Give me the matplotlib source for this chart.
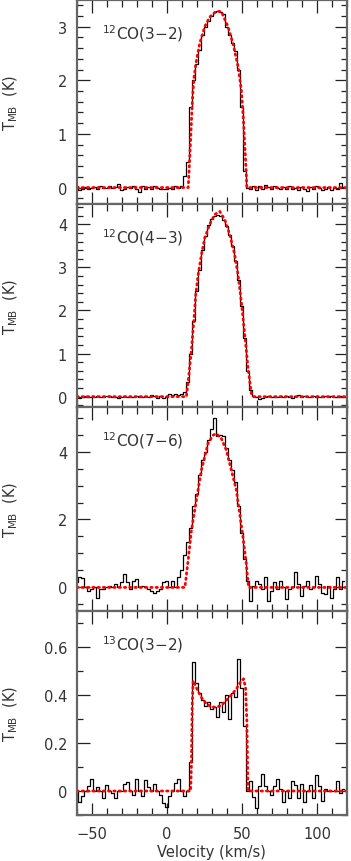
import numpy as np
import matplotlib
matplotlib.use("Agg")
import matplotlib.pyplot as plt
from matplotlib.ticker import MultipleLocator, FixedLocator, FuncFormatter

# channel centres (km/s), 2 km/s channels
velocity = np.arange(-60, 120, 2)

co32 = [0.02, -0.04, -0.02, 0.01, -0.02, 0.0, 0.01, -0.02, 0.02, -0.01,
        0.0, 0.02, -0.01, 0.01, 0.06, -0.04, -0.02, 0.01, -0.01, 0.02,
        -0.03, -0.09, 0.02, -0.02, 0.01, -0.03, 0.02, -0.01, -0.03, -0.02,
        -0.02, -0.01, -0.02, 0.02, 0.0, 0.03, 0.22, 0.48, 1.5, 2.0,
        2.3, 2.57, 2.85, 3.0, 3.1, 3.2, 3.27, 3.3, 3.27, 3.24,
        3.0, 2.85, 2.7, 2.55, 2.2, 1.5, 0.3, 0.0, -0.03, 0.02,
        -0.04, 0.03, -0.02, 0.04, 0.01, -0.02, 0.03, 0.0, -0.03, 0.01,
        -0.02, 0.02, -0.03, 0.0, -0.04, 0.01, -0.02, -0.06, 0.01, -0.03,
        0.02, -0.01, -0.04, -0.02, 0.01, -0.05, 0.0, -0.02, 0.08, 0.01]

co43 = [0.01, -0.02, 0.0, 0.01, 0.0, -0.01, 0.0, 0.01, 0.0, -0.01,
        0.02, 0.01, 0.0, -0.01, -0.02, 0.0, 0.01, 0.0, -0.01, 0.0,
        0.01, 0.0, 0.0, 0.02, 0.0, 0.04, 0.02, -0.02, 0.01, -0.02,
        0.0, 0.05, 0.03, 0.06, 0.04, 0.07, 0.1, 0.35, 1.0, 1.75,
        2.45, 2.95, 3.4, 3.72, 3.98, 4.12, 4.2, 4.22, 4.2, 4.1,
        3.95, 3.75, 3.5, 3.15, 2.7, 2.1, 1.35, 0.6, 0.15, 0.02,
        0.0, -0.06, -0.03, 0.0, 0.01, 0.0, -0.01, 0.0, 0.01, 0.0,
        0.02, 0.0, -0.02, 0.01, 0.03, 0.0, 0.01, -0.01, 0.0, 0.01,
        0.0, -0.01, 0.0, 0.01, 0.0, 0.02, 0.0, -0.01, 0.01, 0.0]

co76 = [0.15, 0.3, 0.28, 0.0, -0.1, -0.05, 0.0, -0.3, -0.05, -0.05,
        0.0, 0.05, 0.0, 0.1, 0.0, 0.15, 0.4, 0.15, -0.05, 0.2,
        0.25, 0.0, 0.05, 0.0, -0.05, -0.1, -0.15, -0.1, -0.05, 0.15,
        0.2, 0.0, 0.2, 0.0, 0.3, 0.5, 0.95, 1.35, 1.75, 2.4,
        2.75, 3.3, 3.75, 4.0, 4.35, 4.65, 5.0, 4.45, 4.5, 4.45,
        4.1, 3.75, 3.45, 3.1, 2.4, 1.6, 0.85, 0.2, -0.4, 0.05,
        0.2, 0.1, -0.05, 0.3, -0.4, -0.1, 0.15, -0.05, 0.2, 0.0,
        -0.35, -0.05, 0.0, 0.45, 0.1, -0.25, 0.05, 0.2, -0.05, 0.0,
        0.35, 0.1, -0.15, -0.2, 0.05, -0.3, -0.05, 0.3, -0.05, 0.2]

c13o32 = [0.0, -0.045, -0.02, 0.0, 0.02, 0.05, 0.0, 0.015, 0.0, -0.03,
          0.025, 0.0, -0.01, -0.03, 0.0, 0.0, 0.03, 0.037, 0.0, -0.015,
          0.05, 0.0, -0.02, 0.045, 0.015, 0.0, 0.03, 0.0, -0.015, -0.05,
          -0.065, -0.02, 0.0, 0.035, 0.05, 0.0, -0.02, 0.0, 0.12, 0.54,
          0.45, 0.41, 0.38, 0.355, 0.37, 0.34, 0.35, 0.31, 0.37, 0.33,
          0.4, 0.3, 0.41, 0.39, 0.55, 0.43, 0.27, 0.0, 0.04, -0.025,
          -0.07, 0.02, 0.07, 0.02, 0.0, -0.015, 0.02, 0.05, 0.01, -0.045,
          0.0, -0.03, 0.04, 0.025, -0.03, 0.03, -0.045, 0.0, 0.025, -0.03,
          0.065, 0.02, -0.04, 0.01, 0.0, 0.0, 0.0, 0.04, -0.01, 0.01]

# model fits (red dotted)
fit_co32_v = [-60, 14.2, 15.7, 17.0, 18.1, 19.7, 21.9, 25.2, 28.5, 33, 36.3,
              40.7, 44, 47.4, 49.6, 51.1, 52.4, 53.3, 120]
fit_co32_t = [0, 0, 0.83, 1.64, 2.07, 2.38, 2.69, 3.0, 3.18, 3.29, 3.28,
              3.0, 2.69, 2.26, 1.82, 1.21, 0.52, 0, 0]

fit_co43_v = [-60, 13, 14.6, 16.4, 17.9, 19.2, 20.8, 23, 25.2, 28.5, 31.9,
              35.2, 38.5, 41.9, 45.2, 47.4, 49.6, 51.9, 54.1, 56.3, 57.5, 120]
fit_co43_t = [0, 0, 0.49, 1.11, 1.74, 2.36, 2.83, 3.29, 3.68, 4.0, 4.23,
              4.3, 4.11, 3.76, 3.29, 2.83, 2.2, 1.43, 0.65, 0.07, 0, 0]

fit_co76_v = [-60, 12, 14.2, 16.4, 18.6, 20.8, 23, 25.2, 27.4, 30.7, 33,
              36.3, 39.6, 42.9, 46.2, 48.4, 50.6, 52.8, 54.4, 120]
fit_co76_t = [0, 0, 0.83, 1.7, 2.29, 2.88, 3.46, 3.85, 4.24, 4.48, 4.53,
              4.38, 4.04, 3.46, 2.88, 2.2, 1.51, 0.73, 0, 0]

fit_13co_v = [-60, 15.8, 16.3, 16.8, 17.5, 19.7, 23, 26.3, 29.6, 33, 36.3,
              39.6, 42.9, 46.3, 49.6, 51.1, 52.4, 53.3, 54, 120]
fit_13co_t = [0, 0, 0.1, 0.35, 0.46, 0.43, 0.39, 0.364, 0.35, 0.35, 0.357,
              0.378, 0.4, 0.426, 0.46, 0.468, 0.43, 0.29, 0, 0]

names = [r"$^{12}$CO(3$-$2)", r"$^{12}$CO(4$-$3)", r"$^{12}$CO(7$-$6)", r"$^{13}$CO(3$-$2)"]
spectra = [co32, co43, co76, c13o32]
fits = [(fit_co32_v, fit_co32_t), (fit_co43_v, fit_co43_t),
        (fit_co76_v, fit_co76_t), (fit_13co_v, fit_13co_t)]
ylims = [(-0.3, 3.5), (-0.25, 4.48), (-0.7, 5.3), (-0.1, 0.75)]
major = [[0, 1, 2, 3], [0, 1, 2, 3, 4], [0, 2, 4], [0, 0.2, 0.4, 0.6]]
minor = [0.2, 0.2, 0.5, 0.1]

TXT = "#333333"


def fmt(x, pos):
    s = "%g" % x
    return s.replace("-", "\u2212")


def main():
    plt.rcParams["font.family"] = ["DejaVu Sans"]
    plt.rcParams["font.size"] = 10
    fig, axes = plt.subplots(4, 1, figsize=(3.51, 8.62), dpi=100, sharex=True)
    fig.subplots_adjust(left=0.219, right=0.9886, top=0.999, bottom=0.0534, hspace=0)

    for i, ax in enumerate(axes):
        ax.plot(velocity, spectra[i], color="black", lw=0.9, drawstyle="steps-mid")
        ax.plot(fits[i][0], fits[i][1], color="red", lw=2.0,
                linestyle=(0, (0.5, 1.4)), dash_capstyle="round")
        ax.set_xlim(-60, 120)
        ax.set_ylim(*ylims[i])
        ax.yaxis.set_major_locator(FixedLocator(major[i]))
        ax.yaxis.set_minor_locator(MultipleLocator(minor[i]))
        ax.yaxis.set_major_formatter(FuncFormatter(fmt))
        ax.xaxis.set_major_locator(MultipleLocator(50))
        ax.xaxis.set_minor_locator(MultipleLocator(10))
        ax.xaxis.set_major_formatter(FuncFormatter(fmt))
        ax.tick_params(which="both", direction="in", top=True, right=True,
                       color="#222222", labelcolor=TXT, labelsize=10.5)
        ax.tick_params(axis="y", which="major", length=9, width=0.9, pad=7)
        ax.tick_params(axis="y", which="minor", length=4.5, width=0.9)
        ax.tick_params(axis="x", which="major", length=9, width=0.9, pad=8)
        ax.tick_params(axis="x", which="minor", length=5, width=0.9)
        for sp in ax.spines.values():
            sp.set_color("#666666")
            sp.set_linewidth(1.6)
        ax.set_ylabel(r"T$_{\rm MB}$  (K)", color=TXT, fontsize=10.5)
        ax.yaxis.set_label_coords(-0.21, 0.5)
        ax.text(0.093, 0.84, names[i], transform=ax.transAxes, color=TXT,
                fontsize=11, va="center", ha="left")

    axes[-1].set_xlabel("Velocity (km/s)", color=TXT, fontsize=10.5, labelpad=2)
    fig.savefig("out.png", dpi=100)


if __name__ == "__main__":
    main()
